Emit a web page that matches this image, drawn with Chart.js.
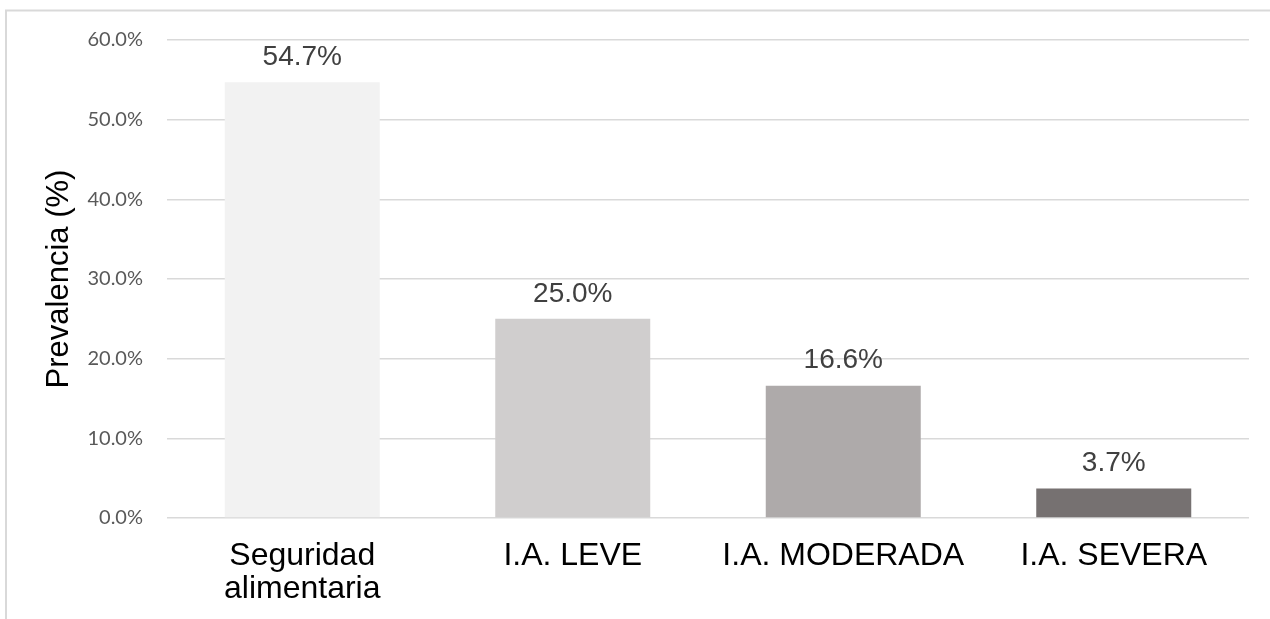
<!DOCTYPE html>
<html>
<head>
<meta charset="utf-8">
<script src="https://cdn.jsdelivr.net/npm/chart.js@4/dist/chart.umd.min.js"></script>
<style>
	html, body { margin: 0; padding: 0; background: #fff; overflow: hidden; }
	#wrap { position: relative; width: 1270px; height: 619px; }
</style>
</head>
<body>
<div id="wrap"><canvas id="chart" width="1270" height="619"></canvas></div>
<script>
const categories = [["Seguridad", "alimentaria"], "I.A. LEVE", "I.A. MODERADA", "I.A. SEVERA"]
const prevalence = [54.7, 25.0, 16.6, 3.7]
const barColors = ["#f2f2f2", "#d0cece", "#aeaaaa", "#767171"]
const yTitle = "Prevalencia (%)"

// outer frame of the original picture (only top and left edges visible)
const framePlugin = {
	id: "frame",
	beforeDraw(chart) {
		const ctx = chart.ctx
		ctx.save()
		ctx.strokeStyle = "#d9d9d9"
		ctx.lineWidth = 2
		ctx.beginPath()
		ctx.moveTo(6, chart.height)
		ctx.lineTo(6, 10.5)
		ctx.lineTo(chart.width, 10.5)
		ctx.stroke()
		ctx.restore()
	},
}

// value labels above the bars
const valueLabels = {
	id: "valueLabels",
	afterDatasetsDraw(chart) {
		const ctx = chart.ctx
		const meta = chart.getDatasetMeta(0)
		ctx.save()
		ctx.font = "28px 'Liberation Sans', Arial, sans-serif"
		ctx.fillStyle = "#404040"
		ctx.textAlign = "center"
		ctx.textBaseline = "middle"
		meta.data.forEach((bar, i) => {
			ctx.fillText(prevalence[i].toFixed(1) + "%", bar.x, bar.y - 25)
		})
		ctx.restore()
	},
}

window.onload = () => {
	const canvas = document.getElementById("chart")
	new Chart(canvas, {
		type: "bar",
		data: {
			labels: categories,
			datasets: [{
				data: prevalence,
				backgroundColor: barColors,
				borderWidth: 0,
				barPercentage: 0.573,
				categoryPercentage: 1,
			}],
		},
		options: {
			responsive: false,
			animation: false,
			devicePixelRatio: 1,
			layout: {
				padding: { top: 40, right: 21, left: 0, bottom: 0 },
			},
			plugins: {
				legend: { display: false },
				tooltip: { enabled: false },
			},
			scales: {
				x: {
					grid: { display: false },
					border: { display: false },
					ticks: {
						color: "#000000",
						padding: 13,
						maxRotation: 0,
						font: { family: "'Liberation Sans', Arial, sans-serif", size: 32, lineHeight: 1.05 },
					},
					afterFit: scale => { scale.height = 101 },
				},
				y: {
					min: 0,
					max: 60,
					grid: { color: "#d9d9d9", lineWidth: 1.5, drawTicks: false },
					border: { display: false },
					ticks: {
						stepSize: 10,
						padding: 24,
						color: "#595959",
						font: { family: "Lato, 'Open Sans', sans-serif", size: 20 },
						callback: v => v.toFixed(1) + "%",
					},
					title: {
						display: true,
						text: yTitle,
						color: "#000000",
						padding: { top: 41, bottom: 0 },
						font: { family: "'Liberation Sans', Arial, sans-serif", size: 31 },
					},
					afterFit: scale => { scale.width = 167 },
				},
			},
		},
		plugins: [framePlugin, valueLabels],
	})
}
</script>
</body>
</html>
